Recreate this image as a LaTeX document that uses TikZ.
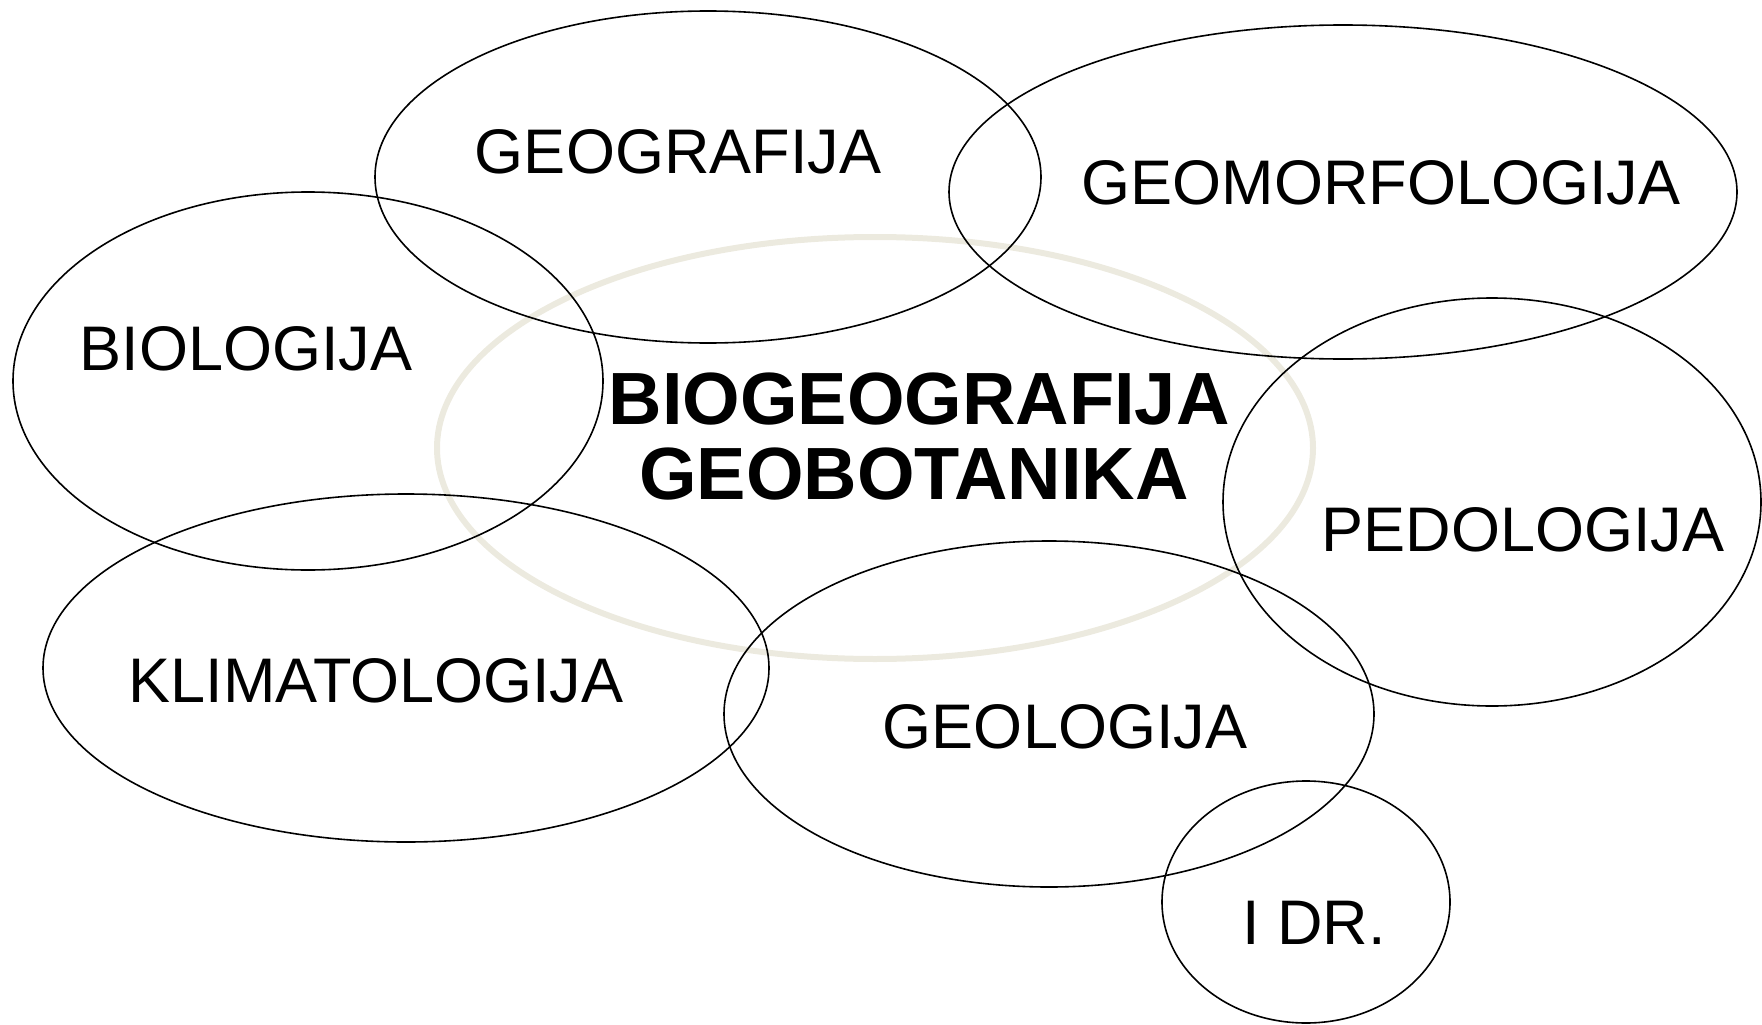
\documentclass[tikz,border=0pt]{standalone}
\usepackage{fontspec}
\setmainfont{Liberation Sans}
\begin{document}
\begin{tikzpicture}[x=1pt,y=-1pt,
  ring/.style={draw=black,line width=1.6pt},
  core/.style={draw=beigeline,line width=6pt},
  lbl/.style={anchor=base,inner sep=0pt,font=\fontsize{63}{63}\selectfont},
  big/.style={anchor=base,inner sep=0pt,font=\fontsize{74}{74}\selectfont\bfseries}]
\definecolor{beigeline}{HTML}{ECEADF}
\useasboundingbox (0,0) rectangle (1762,1025);
% central (behind)
\draw[core] (875,448) ellipse [x radius=438, y radius=211];
% surrounding disciplines
\draw[ring] (708,177) ellipse [x radius=333, y radius=166];
\draw[ring] (1343,192) ellipse [x radius=394, y radius=167];
\draw[ring] (308,381) ellipse [x radius=295, y radius=189];
\draw[ring] (1492,502) ellipse [x radius=269, y radius=204];
\draw[ring] (406,668) ellipse [x radius=363, y radius=174];
\draw[ring] (1049,714) ellipse [x radius=325, y radius=173];
\draw[ring] (1306,902) ellipse [x radius=144, y radius=121];
% labels
\node[lbl] (geo) at (678,173) {GEOGRAFIJA};
\node[lbl] (geom) at (1381,204) {GEOMORFOLOGIJA};
\node[lbl] (bio) at (246,370) {BIOLOGIJA};
\node[lbl] (klim) at (376,702) {KLIMATOLOGIJA};
\node[lbl] (pedo) at (1523,551) {PEDOLOGIJA};
\node[lbl] (geol) at (1065,748) {GEOLOGIJA};
\node[lbl] (idr) at (1314,944) {I DR.};
\node[big] (bg) at (919,424) {BIOGEOGRAFIJA};
\node[big] (gb) at (914,499) {GEOBOTANIKA};
\end{tikzpicture}
\end{document}
